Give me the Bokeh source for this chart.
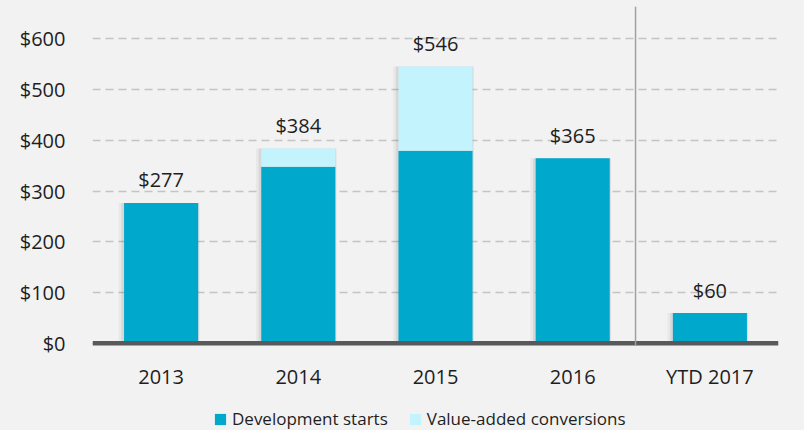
from bokeh.plotting import figure
from bokeh.models import (ColumnDataSource, FactorRange, Range1d, Span, Legend, LegendItem,
                          NumeralTickFormatter, FixedTicker, Arrow)
from bokeh.layouts import column
from bokeh.transform import dodge
from bokeh.embed import file_html
from bokeh.resources import INLINE
from bokeh.core.properties import value

categories = ["2013", "2014", "2015", "2016", "YTD 2017"]
development_starts = [277, 348, 380, 365, 60]
value_added_conversions = [0, 36, 166, 0, 0]
totals = [277, 384, 546, 365, 60]
total_labels = ["$277", "$384", "$546", "$365", "$60"]
y_ticks = [0, 100, 200, 300, 400, 500, 600]
series_names = ["Development starts", "Value-added conversions"]

DEV = "#00a8cc"
CONV = "#c3f3fd"
BG = "#f2f2f2"
TXT = "#1e1e1e"
FONT = "Open Sans"

src = ColumnDataSource(dict(cat=categories, dev=development_starts, conv=value_added_conversions,
                            total=totals, label=total_labels))

p = figure(width=804, height=406, x_range=FactorRange(*categories), y_range=Range1d(-4, 664),
           output_backend="svg", toolbar_location=None,
           min_border_left=92, min_border_right=26, min_border_top=6, min_border_bottom=61)
p.background_fill_color = BG
p.border_fill_color = BG
p.outline_line_color = None

# grid
p.xgrid.grid_line_color = None
p.ygrid.grid_line_color = "#c4c4c4"
p.ygrid.grid_line_width = 1.5
p.ygrid.grid_line_dash = "8 5"
p.yaxis.ticker = FixedTicker(ticks=y_ticks)
p.yaxis.formatter = NumeralTickFormatter(format="$0")

for ax in (p.xaxis, p.yaxis):
    ax.axis_line_color = None
    ax.major_tick_line_color = None
    ax.minor_tick_line_color = None
    ax.major_tick_out = 0
    ax.major_tick_in = 0
    ax.major_label_text_font = FONT
    ax.major_label_text_font_size = "20px"
    ax.major_label_text_color = TXT
p.yaxis.major_label_standoff = 27
p.xaxis.major_label_standoff = 17

# soft shadows
p.vbar(x=dodge("cat", -0.014, range=p.x_range), top="total", bottom=0, width=0.59, source=src,
       fill_color="#000000", fill_alpha=0.04, line_color=None)
p.vbar(x=dodge("cat", -0.007, range=p.x_range), top="total", bottom=0, width=0.565, source=src,
       fill_color="#000000", fill_alpha=0.07, line_color=None)

p.vbar_stack(["dev", "conv"], x="cat", width=0.54, source=src,
             fill_color=[DEV, CONV], line_color=None)

# baseline
p.add_layout(Span(location=0, dimension="width", line_color="#58595b", line_width=5))

# separator
p.add_layout(Arrow(end=None, x_start=3.958, x_end=3.958, y_start=664, y_end=-73,
                   line_color="#a0a0a0", line_width=1.5))

# value labels
p.text(x="cat", y="total", text="label", source=src, text_align="center",
       text_baseline="alphabetic", y_offset=-23, text_font=value(FONT),
       text_font_size="20px", text_color=TXT)

# legend strip (its own small figure; the glyphs sit outside its visible y range)
leg = figure(width=804, height=24, x_range=FactorRange(*categories), y_range=Range1d(10000, 10001),
             output_backend="svg", toolbar_location=None, x_axis_location=None, y_axis_location=None,
             min_border_left=0, min_border_right=0, min_border_top=0, min_border_bottom=0)
leg.background_fill_color = BG
leg.border_fill_color = BG
leg.outline_line_color = None
leg.xgrid.grid_line_color = None
leg.ygrid.grid_line_color = None
lr = leg.vbar_stack(["dev", "conv"], x="cat", width=0.54, source=src,
                    fill_color=[DEV, CONV], line_color=None)

legend = Legend(items=[LegendItem(label=series_names[0], renderers=[lr[0]]),
                       LegendItem(label=series_names[1], renderers=[lr[1]])],
                orientation="horizontal", location=(121, 0),
                padding=0, margin=0, spacing=20, glyph_width=14, glyph_height=14,
                label_standoff=5, label_height=20,
                label_text_font=FONT, label_text_font_size="17px", label_text_color=TXT,
                background_fill_alpha=0, border_line_color=None)
leg.add_layout(legend)

layout = column(p, leg, spacing=0)

html = file_html(layout, INLINE, title="chart")
html = html.replace("</head>", "<style>html, body { background: #f2f2f2; }</style></head>", 1)
open("out.html", "w").write(html)
